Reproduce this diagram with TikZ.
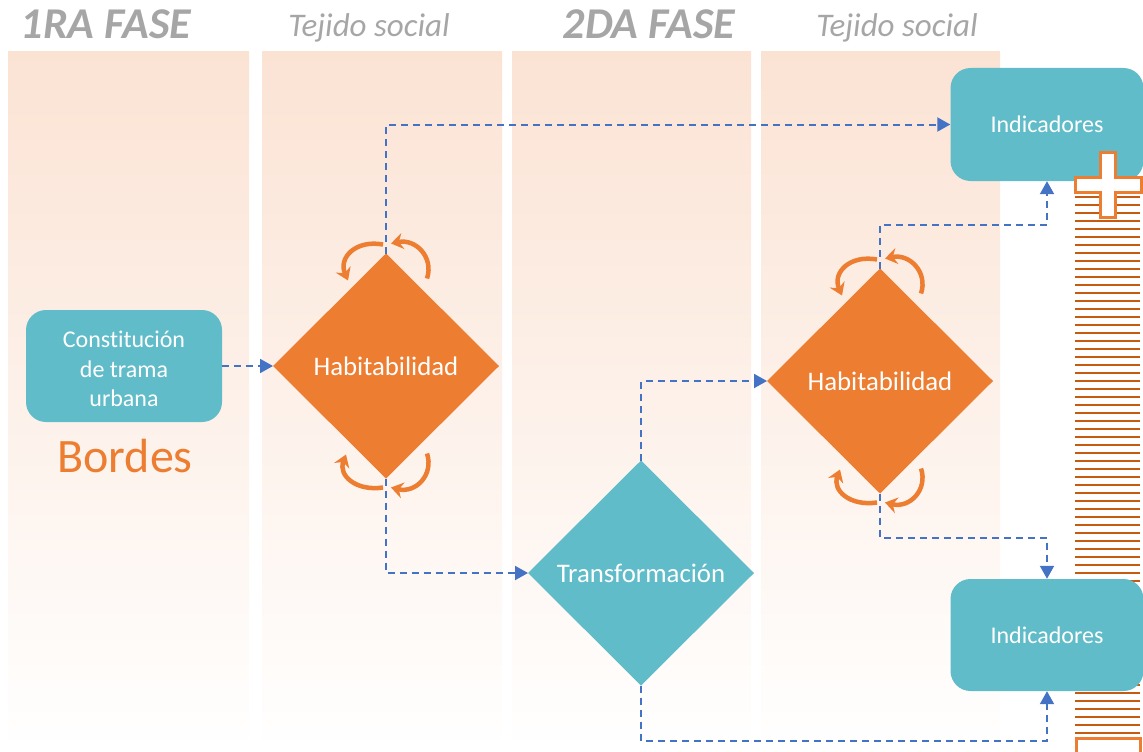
\documentclass[tikz,border=0pt]{standalone}
\usepackage{fontspec}
\setmainfont{Carlito}[Ligatures={NoCommon}]
\usetikzlibrary{shapes.geometric,arrows.meta}
\definecolor{teal1}{HTML}{61BCC9}
\definecolor{orng}{HTML}{ED7D31}
\definecolor{blu}{HTML}{4472C4}
\definecolor{hatchc}{HTML}{C55A11}
\definecolor{peach}{HTML}{FBE3D4}
\definecolor{grayt}{HTML}{A6A6A6}
\begin{document}
\begin{tikzpicture}[x=1pt,y=-1pt,
  colband/.style={top color=peach,bottom color=white,draw=none},
  box/.style={fill=teal1,draw=none,rounded corners=20pt,text=white,align=center,inner sep=0pt,
     font=\fontsize{24}{30}\selectfont},
  boxtext/.style={text=white,align=center,inner sep=0pt,font=\fontsize{24}{29.5}\selectfont},
  dia/.style={diamond,draw=none,inner sep=0pt,outer sep=0pt,minimum width=226pt,minimum height=225pt,
     text=white,font=\fontsize{26.8}{30}\selectfont},
  conn/.style={blu,line width=2pt,dash pattern=on 7pt off 5pt,-{Triangle[length=13pt,width=14pt]}},
  cyc/.style={orng,line width=4.5pt,-{Stealth[length=12pt,width=16pt,inset=4pt]}},
  hdr/.style={grayt,anchor=base,font=\fontsize{44}{44}\selectfont\bfseries\itshape},
  sub/.style={grayt,anchor=base,font=\fontsize{33}{33}\selectfont\itshape},
  hatchline/.style={hatchc,line width=2pt},
  plusmark/.style={fill=white,draw=orng,line width=3pt}]
\useasboundingbox (0,0) rectangle (1143,752);
% column bands
\shade[colband] (8,52) rectangle (249,752);
\shade[colband] (262,52) rectangle (502,752);
\shade[colband] (512,52) rectangle (751,752);
\shade[colband] (761,52) rectangle (1000,752);
% headers
\node[hdr] (p1) at (106,39) {1RA FASE};
\node[sub] (t1) at (369,37) {Tejido social};
\node[hdr] (p2) at (649,39) {2DA FASE};
\node[sub] (t2) at (897,37) {Tejido social};
% hatch bar
\foreach \i in {0,...,67} \draw[hatchline] (1075,{197+8*\i}) -- (1140,{197+8*\i});
% nodes
\node[box,minimum width=196pt,minimum height=112pt] (c) at (124,366) {};
\node[boxtext] (ct) at (124,369) {Constitución\\de trama\\urbana};
\node[orng,font=\fontsize{48}{48}\selectfont,anchor=base] (b) at (125,472) {Bordes};
\node[dia,fill=orng] (h1) at (386,366) {Habitabilidad};
\node[dia,fill=teal1] (tr) at (641,573) {Transformación};
\node[dia,fill=orng] (h2) at (880,381) {Habitabilidad};
\node[box,minimum width=193pt,minimum height=113pt] (i1) at (1047,124.5) {Indicadores};
\node[box,minimum width=193pt,minimum height=112pt] (i2) at (1047,635) {Indicadores};
% connectors
\draw[conn] (c.east) -- (h1.west);
\draw[conn] (h1.north) |- (i1.west);
\draw[conn] (h1.south) |- (tr.west);
\draw[conn] (tr.north) |- (h2.west);
\draw[conn] (h2.north) -- ++(0,-44) -| (i1.south);
\draw[conn] (h2.south) -- ++(0,44) -| (i2.north);
\draw[conn] (tr.south) -- ++(0,55) -| (i2.south);
% cycle arrows
\foreach \n in {h1,h2}{
  \draw[cyc] ([shift={(-3,-9)}]\n.north) .. controls ([shift={(-30,-14)}]\n.north) and ([shift={(-48,4)}]\n.north) .. ([shift={(-38,27)}]\n.north);
  \draw[cyc] ([shift={(41,25)}]\n.north) .. controls ([shift={(48,4)}]\n.north) and ([shift={(30,-15)}]\n.north) .. ([shift={(5,-10)}]\n.north);
  \draw[cyc] ([shift={(-3,9)}]\n.south) .. controls ([shift={(-30,13)}]\n.south) and ([shift={(-48,-3)}]\n.south) .. ([shift={(-40,-24)}]\n.south);
  \draw[cyc] ([shift={(41,-25)}]\n.south) .. controls ([shift={(48,-4)}]\n.south) and ([shift={(30,15)}]\n.south) .. ([shift={(5,9)}]\n.south);
}
% plus sign and bottom box
\draw[plusmark] (1100,152) -- (1115,152) -- (1115,177) -- (1141,177) -- (1141,192) -- (1115,192) -- (1115,217) -- (1100,217) -- (1100,192) -- (1075,192) -- (1075,177) -- (1100,177) -- cycle;
\draw[plusmark] (1076,738) rectangle (1140,762);
\end{tikzpicture}
\end{document}
